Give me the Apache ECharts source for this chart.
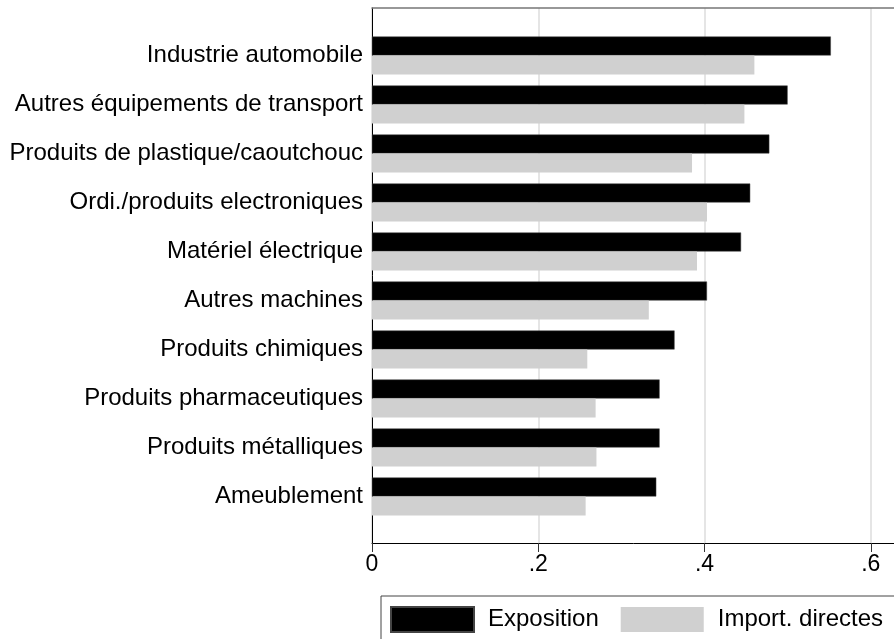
<!DOCTYPE html>
<html>
<head>
<meta charset="utf-8">
<script src="https://cdn.jsdelivr.net/npm/echarts@6/dist/echarts.min.js"></script>
<style>
  html, body { margin: 0; padding: 0; background: #fff; }
  #main { width: 894px; height: 639px; }
</style>
</head>
<body>
<div id="main"></div>
<script>
var categories = [
    'Industrie automobile',
    'Autres équipements de transport',
    'Produits de plastique/caoutchouc',
    'Ordi./produits electroniques',
    'Matériel électrique',
    'Autres machines',
    'Produits chimiques',
    'Produits pharmaceutiques',
    'Produits métalliques',
    'Ameublement'
];
var exposition = [0.552, 0.500, 0.478, 0.455, 0.444, 0.403, 0.364, 0.346, 0.346, 0.342];
var importDirectes = [0.460, 0.448, 0.385, 0.403, 0.391, 0.333, 0.259, 0.269, 0.270, 0.257];
var xTicks = [0, 0.2, 0.4, 0.6];

var font = 'Arial, "Liberation Sans", sans-serif';

(function () {
    var myChart = echarts.init(document.getElementById('main'));
    var option = {
        animation: false,
        textStyle: { fontFamily: font },
        legend: {
            left: 381,
            top: 596,
            width: 700,
            orient: 'horizontal',
            icon: 'rect',
            itemWidth: 83,
            itemHeight: 25,
            itemGap: 22,
            padding: [10, 30, 12, 9],
            borderColor: '#444',
            borderWidth: 1,
            textStyle: { fontSize: 24, color: '#000', fontFamily: font, padding: [0, 0, 0, 9] },
            data: ['Exposition', 'Import. directes']
        },
        grid: [
            // frame + value axis
            { left: 372, top: 8, width: 532, height: 535, outerBoundsMode: 'none' },
            // bars
            { left: 372, top: 31, width: 532, height: 490, outerBoundsMode: 'none' }
        ],
        xAxis: [
            {
                gridIndex: 0,
                type: 'value',
                min: 0,
                max: 0.64,
                interval: 0.2,
                axisLine: { show: true, lineStyle: { color: '#000', width: 1 } },
                axisTick: { show: true, length: 9, lineStyle: { color: '#333' } },
                splitLine: { show: true, lineStyle: { color: '#dcdcdc', width: 1.5 } },
                axisLabel: {
                    fontSize: 23,
                    color: '#000',
                    margin: 10,
                    showMaxLabel: false,
                    formatter: function (v) {
                        var ok = xTicks.some(function (t) { return Math.abs(t - v) < 1e-6; });
                        if (!ok) return '';
                        return v === 0 ? '0' : String(v).replace(/^0/, '');
                    }
                }
            },
            {
                gridIndex: 1,
                type: 'value',
                min: 0,
                max: 0.64,
                show: false
            },
            {
                // top frame line
                gridIndex: 0,
                type: 'value',
                position: 'top',
                min: 0,
                max: 0.64,
                axisLine: { show: true, lineStyle: { color: '#777', width: 1.5 } },
                axisTick: { show: false },
                axisLabel: { show: false },
                splitLine: { show: false }
            }
        ],
        yAxis: [
            {
                gridIndex: 0,
                type: 'value',
                axisLine: { show: true, lineStyle: { color: '#000', width: 1 } },
                axisTick: { show: false },
                axisLabel: { show: false },
                splitLine: { show: false }
            },
            {
                gridIndex: 1,
                type: 'category',
                inverse: true,
                data: categories,
                axisLine: { show: false },
                axisTick: { show: false },
                axisLabel: { fontSize: 24, color: '#000', margin: 9 }
            }
        ],
        series: [
            {
                name: 'Exposition',
                type: 'bar',
                xAxisIndex: 1,
                yAxisIndex: 1,
                barWidth: 19,
                barGap: '0%',
                itemStyle: { color: '#000', borderColor: '#444', borderWidth: 0.5 },
                data: exposition
            },
            {
                name: 'Import. directes',
                type: 'bar',
                xAxisIndex: 1,
                yAxisIndex: 1,
                barWidth: 19,
                barGap: '0%',
                itemStyle: { color: '#d0d0d0' },
                data: importDirectes
            }
        ]
    };
    myChart.setOption(option);
})();
</script>
</body>
</html>
